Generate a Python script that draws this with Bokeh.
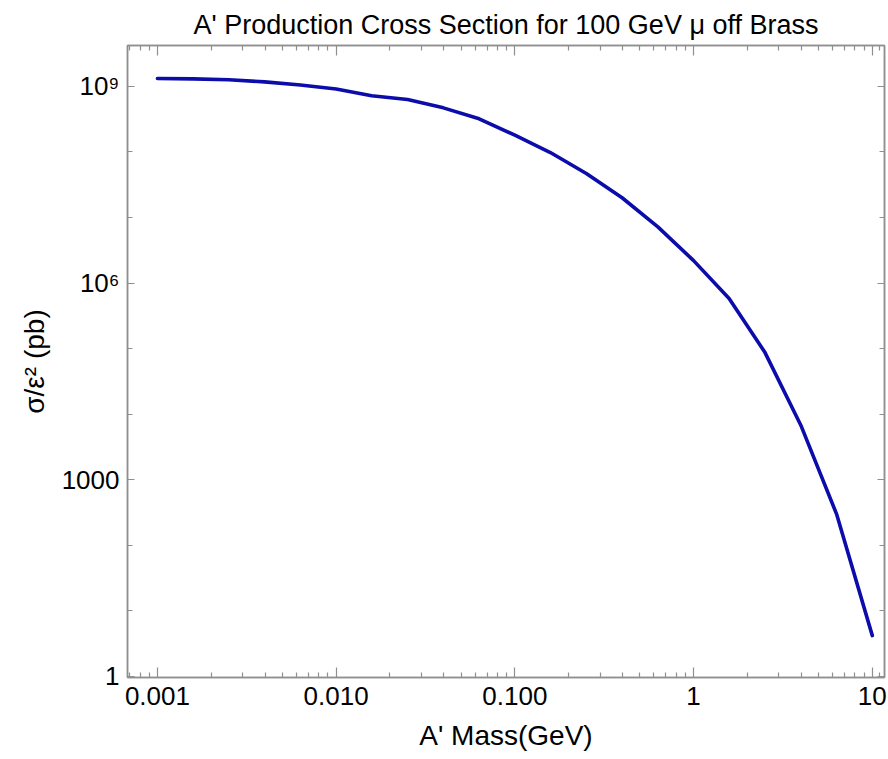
from bokeh.plotting import figure
from bokeh.models import LogAxis, FixedTicker, CustomJSTickFormatter, Range1d
from bokeh.embed import file_html
from bokeh.resources import INLINE

# ---- data ----
mass_gev = [0.001, 0.00158, 0.00251, 0.00398, 0.00631,
            0.01, 0.0158, 0.0251, 0.0398, 0.0631,
            0.1, 0.158, 0.251, 0.398, 0.631,
            1.0, 1.58, 2.51, 3.98, 6.31, 10.0]
sigma_over_eps2_pb = [1.32e9, 1.30e9, 1.26e9, 1.17e9, 1.05e9,
                      9.1e8, 7.2e8, 6.3e8, 4.7e8, 3.2e8,
                      1.8e8, 9.8e7, 4.7e7, 2.0e7, 7.2e6,
                      2.2e6, 5.8e5, 8.7e4, 6.8e3, 3.0e2, 4.2]

x_major = [0.001, 0.01, 0.1, 1, 10]
x_minor = [m * d for d in [0.0001, 0.001, 0.01, 0.1, 1] for m in range(2, 10)] + [11]
y_major = [1, 1e3, 1e6, 1e9]
y_minor = [10, 100, 1e4, 1e5, 1e7, 1e8]

title_text = "A' Production Cross Section for 100 GeV \u03bc off Brass"
x_label = "A' Mass(GeV)"
y_label = "\u03c3/\u03b5\u00b2 (pb)"

FONT = "Liberation Sans"
FRAME = "#8f8f8f"

p = figure(width=888, height=759, x_axis_type="log", y_axis_type="log",
           x_range=Range1d(0.00068, 11.7), y_range=Range1d(0.965, 4.2e9),
           output_backend="svg", toolbar_location=None,
           min_border_left=127, min_border_right=4,
           min_border_top=45, min_border_bottom=82)
p.background_fill_color = "white"
p.border_fill_color = "white"
p.outline_line_color = FRAME
p.outline_line_width = 1.5
p.xgrid.visible = False
p.ygrid.visible = False

p.title.text = title_text
p.title.align = "center"
p.title.text_font = FONT
p.title.text_font_size = "27px"
p.title.text_font_style = "normal"
p.title.text_color = "black"
p.title.standoff = 11

x_fmt = CustomJSTickFormatter(code="""
if (tick >= 1) { return tick.toFixed(0); }
return tick.toFixed(3);
""")
y_fmt = CustomJSTickFormatter(code="""
const e = Math.round(Math.log10(tick));
if (e === 0) { return '1'; }
if (e === 3) { return '1000'; }
const sup = {6: '\u2076', 9: '\u2079'};
return '10' + sup[e];
""")
blank = CustomJSTickFormatter(code="return '';")


def style_axis(ax, major, minor, labeled, major_len, minor_len):
    ax.ticker = FixedTicker(ticks=major, minor_ticks=minor)
    ax.axis_line_color = FRAME
    ax.axis_line_width = 1.5
    ax.major_tick_line_color = FRAME
    ax.minor_tick_line_color = FRAME
    ax.major_tick_line_width = 1.2
    ax.minor_tick_line_width = 1.2
    ax.major_tick_in = major_len
    ax.major_tick_out = 0
    ax.minor_tick_in = minor_len
    ax.minor_tick_out = 0
    ax.major_label_text_font = FONT
    ax.major_label_text_font_size = "26px"
    ax.major_label_text_color = "black"
    ax.axis_label_text_font = FONT
    ax.axis_label_text_font_size = "28px"
    ax.axis_label_text_font_style = "normal"
    ax.axis_label_text_color = "black"
    if not labeled:
        ax.formatter = blank
        ax.major_label_standoff = 0
        ax.major_label_text_font_size = "1px"


xb = p.xaxis[0]
style_axis(xb, x_major, x_minor, True, 10, 5)
xb.formatter = x_fmt
xb.major_label_standoff = 9
xb.axis_label = x_label
xb.axis_label_standoff = 12

yl = p.yaxis[0]
style_axis(yl, y_major, y_minor, True, 7, 5)
yl.formatter = y_fmt
yl.major_label_standoff = 8
yl.axis_label = y_label
yl.axis_label_standoff = 9

xt = LogAxis()
style_axis(xt, x_major, x_minor, False, 10, 5)
p.add_layout(xt, "above")

yr = LogAxis()
style_axis(yr, y_major, y_minor, False, 7, 5)
p.add_layout(yr, "right")

p.line(mass_gev, sigma_over_eps2_pb, line_color="#0c0cab", line_width=3.6,
       line_join="round", line_cap="round")

open("out.html", "w").write(file_html(p, INLINE))
